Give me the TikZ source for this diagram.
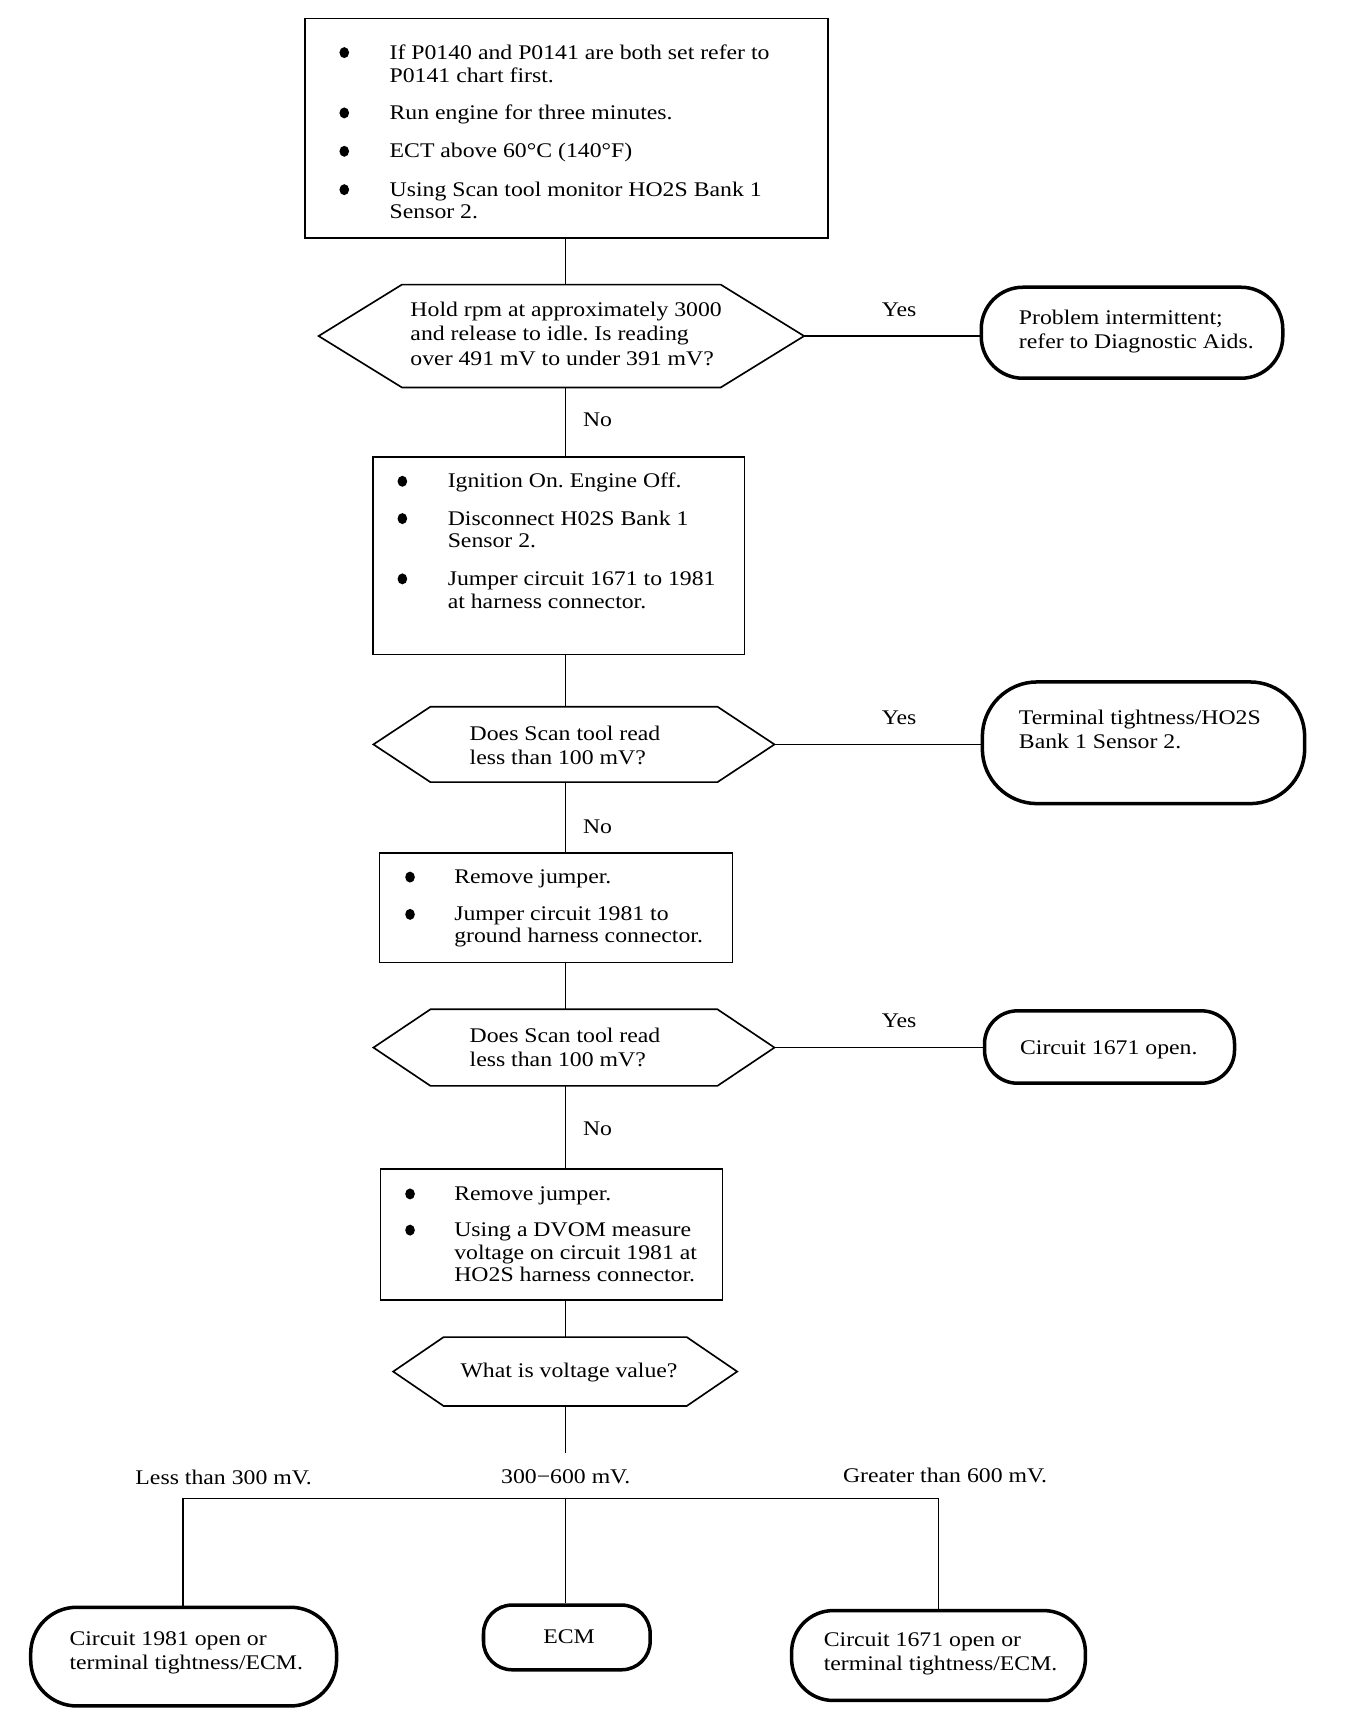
\documentclass[tikz,border=0pt]{standalone}
\usepackage{fontspec}
\setmainfont{Liberation Serif}[FakeStretch=1.14]
\frenchspacing
\newcommand\fs{\fontsize{9.5}{11}\selectfont}
\newcommand\hexshape[2]{\draw[boxline] (#1.west) -- ([xshift=#2]#1.north west) -- ([xshift=-#2]#1.north east) -- (#1.east) -- ([xshift=-#2]#1.south east) -- ([xshift=#2]#1.south west) -- cycle;}
\usetikzlibrary{shapes.geometric}
\tikzset{
  boxline/.style={line width=0.75pt, line join=miter},
  conn/.style={line width=0.6pt},
  pbox/.style={draw, line width=0.75pt, inner sep=0},
  term/.style={draw, line width=1.6pt, inner sep=0},
  hexn/.style={inner sep=0, draw=none},
  txt/.style={anchor=base west, inner sep=0},
  ctxt/.style={anchor=base, inner sep=0},
  bul/.style={ellipse, fill, inner sep=0, minimum width=4.4pt, minimum height=5pt}
}
\begin{document}
\begin{tikzpicture}[x=0.5pt, y=-0.5pt, font=\fs]
\fill[white] (0,0) rectangle (1226,1567);
\useasboundingbox (0,0) rectangle (1226,1567);
\coordinate (ax) at (516,0);

% ---------- box 1
\node[pbox, minimum width=238.5pt, minimum height=100pt] (box1) at (516.5,117) {};
\node[bul] (b11) at (314,48) {};
\node[bul] (b12) at (314,103) {};
\node[bul] (b13) at (314,138) {};
\node[bul] (b14) at (314,173) {};
\node[txt] (t11) at (355,54) {If P0140 and P0141 are both set refer to};
\node[txt] (t12) at (355,75) {P0141 chart first.};
\node[txt] (t13) at (355,109) {Run engine for three minutes.};
\node[txt] (t14) at (355,144) {ECT above 60°C (140°F)};
\node[txt] (t15) at (355,179) {Using Scan tool monitor HO2S Bank 1};
\node[txt] (t16) at (355,199) {Sensor 2.};

% ---------- decision 1
\node[hexn, minimum width=221pt, minimum height=46.5pt] (d1) at (512,306.5) {};
\hexshape{d1}{38pt}
\node[txt] (t21) at (374,289) {Hold rpm at approximately 3000};
\node[txt] (t22) at (374,311) {and release to idle. Is reading};
\node[txt] (t23) at (374,333) {over 491 mV to under 391 mV?};

\node[term, rounded corners=19pt, minimum width=137.5pt, minimum height=41.5pt] (e1) at (1032.5,303.5) {};
\node[txt] (t31) at (929,296) {Problem intermittent;};
\node[txt] (t32) at (929,318) {refer to Diagnostic Aids.};
\node[ctxt] (y1) at (820,289) {Yes};
\node[ctxt] (n1) at (545,389) {No};

% ---------- box 2
\node[pbox, minimum width=169.5pt, minimum height=90pt] (box2) at (509.5,507) {};
\node[bul] (b21) at (367,439) {};
\node[bul] (b22) at (367,473) {};
\node[bul] (b23) at (367,528) {};
\node[txt] (t41) at (408,445) {Ignition On. Engine Off.};
\node[txt] (t42) at (408,479) {Disconnect H02S Bank 1};
\node[txt] (t43) at (408,499) {Sensor 2.};
\node[txt] (t44) at (408,534) {Jumper circuit 1671 to 1981};
\node[txt] (t45) at (408,555) {at harness connector.};

% ---------- decision 2
\node[hexn, minimum width=182.5pt, minimum height=34pt] (d2) at (523.5,679) {};
\hexshape{d2}{26pt}
\node[txt] (t51) at (428,675) {Does Scan tool read};
\node[txt] (t52) at (428,697) {less than 100 mV?};

\node[term, rounded corners=25pt, minimum width=147pt, minimum height=55.5pt] (e2) at (1043,677.5) {};
\node[txt] (t61) at (929,661) {Terminal tightness/HO2S};
\node[txt] (t62) at (929,683) {Bank 1 Sensor 2.};
\node[ctxt] (y2) at (820,661) {Yes};
\node[ctxt] (n2) at (545,760) {No};

% ---------- box 3
\node[pbox, minimum width=161pt, minimum height=50pt] (box3) at (507,828) {};
\node[bul] (b31) at (374,800) {};
\node[bul] (b32) at (374,834) {};
\node[txt] (t71) at (414,806) {Remove jumper.};
\node[txt] (t72) at (414,840) {Jumper circuit 1981 to};
\node[txt] (t73) at (414,860) {ground harness connector.};

% ---------- decision 3
\node[hexn, minimum width=182.5pt, minimum height=34.5pt] (d3) at (523.5,955.5) {};
\hexshape{d3}{26pt}
\node[txt] (t81) at (428,951) {Does Scan tool read};
\node[txt] (t82) at (428,973) {less than 100 mV?};

\node[term, rounded corners=15pt, minimum width=114pt, minimum height=33pt] (e3) at (1012,955) {};
\node[txt] (t91) at (930,962) {Circuit 1671 open.};
\node[ctxt] (y3) at (820,937) {Yes};
\node[ctxt] (n3) at (545,1036) {No};

% ---------- box 4
\node[pbox, minimum width=156pt, minimum height=60pt] (box4) at (503,1126) {};
\node[bul] (b41) at (374,1089) {};
\node[bul] (b42) at (374,1122) {};
\node[txt] (t101) at (414,1095) {Remove jumper.};
\node[txt] (t102) at (414,1128) {Using a DVOM measure};
\node[txt] (t103) at (414,1149) {voltage on circuit 1981 at};
\node[txt] (t104) at (414,1169) {HO2S harness connector.};

% ---------- decision 4
\node[hexn, minimum width=156.5pt, minimum height=31pt] (d4) at (515.5,1251) {};
\hexshape{d4}{23pt}
\node[ctxt] (t111) at (519,1256) {What is voltage value?};

\node[ctxt] (l1) at (204,1354) {Less than 300 mV.};
\node[ctxt] (l2) at (516,1353) {300−600 mV.};
\node[ctxt] (l3) at (862,1352) {Greater than 600 mV.};

% ---------- end states
\node[term, rounded corners=21pt, minimum width=139.5pt, minimum height=45pt] (e5) at (167.5,1511) {};
\node[txt] (t121) at (63,1501) {Circuit 1981 open or};
\node[txt] (t122) at (63,1523) {terminal tightness/ECM.};
\node[term, rounded corners=13pt, minimum width=76pt, minimum height=29.5pt] (e6) at (517,1493.5) {};
\node[ctxt] (t131) at (519,1499) {ECM};
\node[term, rounded corners=19pt, minimum width=134pt, minimum height=41pt] (e7) at (856,1510) {};
\node[txt] (t141) at (751,1502) {Circuit 1671 open or};
\node[txt] (t142) at (751,1524) {terminal tightness/ECM.};

% ---------- connectors
\coordinate (jl) at (167,1367);
\coordinate (jm) at (516,1367);
\coordinate (jr) at (856,1367);
\coordinate (d4end) at (516,1325);
\draw[conn] (box1.south -| ax) -- (d1.north -| ax);
\draw[conn] (d1.south -| ax) -- (box2.north -| ax);
\draw[conn] (box2.south -| ax) -- (d2.north -| ax);
\draw[conn] (d2.south -| ax) -- (box3.north -| ax);
\draw[conn] (box3.south -| ax) -- (d3.north -| ax);
\draw[conn] (d3.south -| ax) -- (box4.north -| ax);
\draw[conn] (box4.south -| ax) -- (d4.north -| ax);
\draw[conn] (d4.south -| ax) -- (d4end);
\draw[conn] (jm) -- (e6.north -| jm);
\draw[conn] (d1.east) -- (d1.east -| e1.west);
\draw[conn] (d2.east) -- (d2.east -| e2.west);
\draw[conn] (d3.east) -- (d3.east -| e3.west);
\draw[conn] (e5.north -| jl) -- (jl) -- (jr) -- (e7.north -| jr);
\end{tikzpicture}
\end{document}
